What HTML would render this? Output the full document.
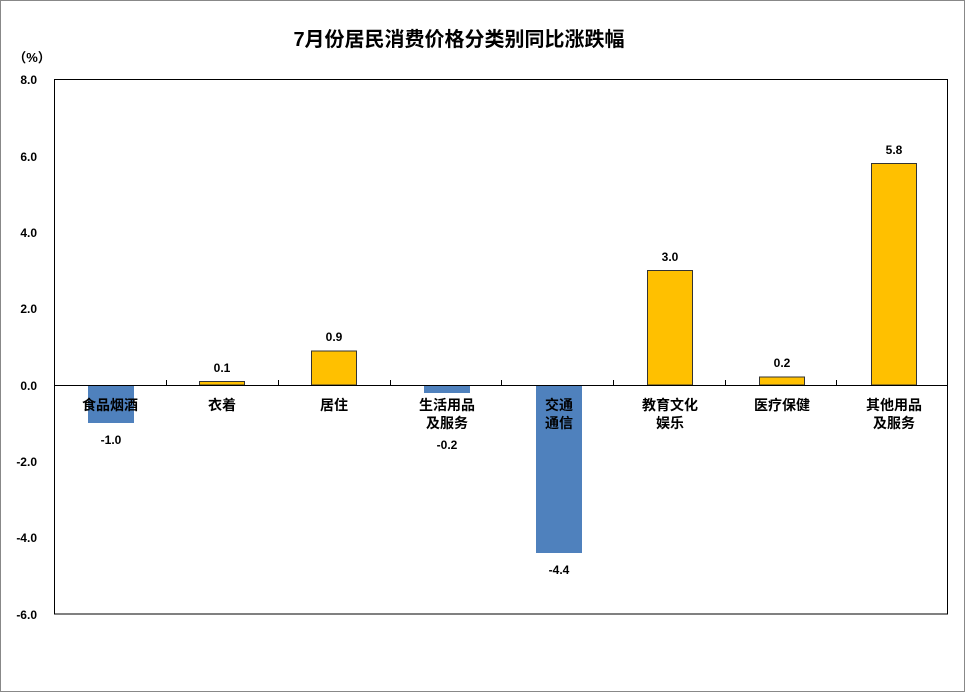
<!DOCTYPE html><html><head><meta charset="utf-8"><style>body{margin:0;background:#fff}</style></head><body>
<svg width="966" height="693" xmlns="http://www.w3.org/2000/svg" font-family="'Liberation Sans','Noto Sans CJK SC',sans-serif" font-weight="bold">
<rect x="0.5" y="0.5" width="964" height="691" fill="#fff" stroke="#888"/>
<text x="459" y="46" font-size="20" text-anchor="middle">7月份居民消费价格分类别同比涨跌幅</text>
<text x="32" y="62" font-size="13" text-anchor="middle">（%）</text>
<rect x="54.5" y="79.5" width="893" height="534.5" fill="none" stroke="#000"/>
<g font-size="12" text-anchor="end">
<text x="37" y="84">8.0</text><text x="37" y="161">6.0</text><text x="37" y="237">4.0</text><text x="37" y="313">2.0</text><text x="37" y="390">0.0</text><text x="37" y="466">-2.0</text><text x="37" y="542">-4.0</text><text x="37" y="619">-6.0</text>
</g>
<g fill="#4F81BD">
<rect x="88" y="385" width="46" height="38"/>
<rect x="424" y="385" width="46" height="8"/>
<rect x="536" y="385" width="46" height="168"/>
</g>
<g fill="#FFC000" stroke="#333" stroke-width="1">
<rect x="199.5" y="381.5" width="45" height="3.5"/>
<rect x="311.5" y="351" width="45" height="34"/>
<rect x="647.5" y="270.5" width="45" height="114.5"/>
<rect x="759.5" y="377" width="45" height="8"/>
<rect x="871.5" y="163.5" width="45" height="221.5"/>
</g>
<line x1="54.5" y1="385.5" x2="947.5" y2="385.5" stroke="#000"/>
<g stroke="#000"><line x1="166.5" y1="380" x2="166.5" y2="385"/><line x1="278.5" y1="380" x2="278.5" y2="385"/><line x1="390.5" y1="380" x2="390.5" y2="385"/><line x1="501.5" y1="380" x2="501.5" y2="385"/><line x1="613.5" y1="380" x2="613.5" y2="385"/><line x1="725.5" y1="380" x2="725.5" y2="385"/><line x1="836.5" y1="380" x2="836.5" y2="385"/></g>
<g font-size="12" text-anchor="middle">
<text x="111" y="444">-1.0</text><text x="222" y="372">0.1</text><text x="334" y="341">0.9</text><text x="447" y="449">-0.2</text><text x="559" y="574">-4.4</text><text x="670" y="261">3.0</text><text x="782" y="367">0.2</text><text x="894" y="154">5.8</text>
</g>
<g font-size="14" text-anchor="middle" font-weight="normal" style="font-weight:600">
<text x="110" y="410">食品烟酒</text><text x="222" y="410">衣着</text><text x="334" y="410">居住</text>
<text x="447" y="410">生活用品</text><text x="447" y="428">及服务</text>
<text x="559" y="410">交通</text><text x="559" y="428">通信</text>
<text x="670" y="410">教育文化</text><text x="670" y="428">娱乐</text>
<text x="782" y="410">医疗保健</text>
<text x="894" y="410">其他用品</text><text x="894" y="428">及服务</text>
</g>
</svg></body></html>
